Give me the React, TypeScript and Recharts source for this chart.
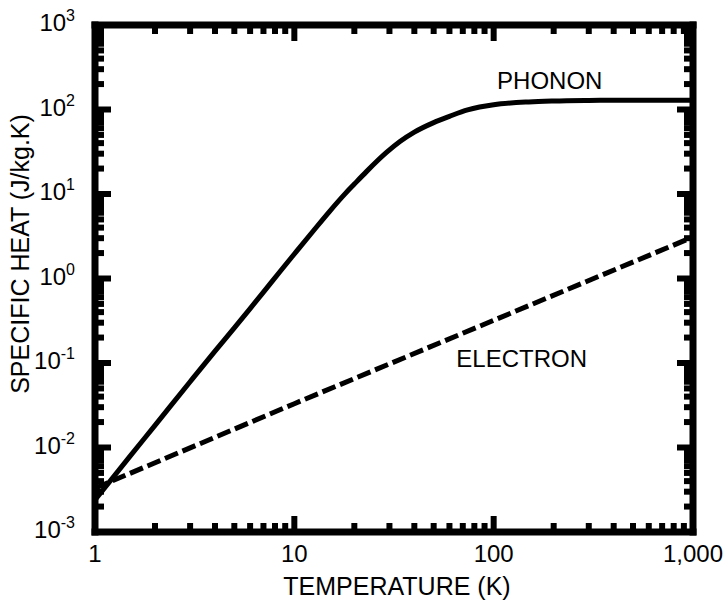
import { Label, Line, LineChart, ReferenceDot, XAxis, YAxis } from 'recharts'

// Phonon specific heat (log-log)
const phononT = [1, 1.5, 2, 3, 4, 5, 6, 7, 8.5, 10, 12.5, 15, 18, 20, 23, 29, 34, 40, 50, 60, 74, 85, 100, 150, 200, 300, 500, 700, 1000]
const phononC = [0.0024, 0.0079, 0.0183, 0.06, 0.138, 0.26, 0.44, 0.69, 1.22, 1.95, 3.7, 6.2, 10.1, 13.1, 18.4, 31, 42, 54, 70, 83, 99, 107, 114, 123, 126, 128, 129, 129, 129]

// Electron contribution (dashed)
const electronT = [1, 10, 100, 1000]
const electronC = [0.0033, 0.033, 0.32, 3.1]

const xMajors = [1, 10, 100, 1000]
const xMajorLabels = ['1', '10', '100', '1,000']
const yMajors = [0.001, 0.01, 0.1, 1, 10, 100, 1000]
const yExponents = ['-3', '-2', '-1', '0', '1', '2', '3']

const FONT = '"Liberation Sans", Arial, sans-serif'
const MAJOR_LEN = 16
const MINOR_LEN = 9
const TICK_W = 6

const withMinors = (majors: number[]) => {
  const out: number[] = []
  majors.forEach((m, i) => {
    out.push(m)
    if (i < majors.length - 1) {
      for (let k = 2; k <= 9; k++) out.push(Number((m * k).toPrecision(6)))
    }
  })
  return out
}

const xTicks = withMinors(xMajors)
const yTicks = withMinors(yMajors)

const phononData = phononT.map((t, i) => ({ t, c: phononC[i] }))
const electronData = electronT.map((t, i) => ({ t, c: electronC[i] }))

const majorIndex = (majors: number[], v: number) =>
  majors.findIndex((m) => Math.abs(Math.log10(m) - Math.log10(v)) < 1e-6)

function BottomTick({ x, y, payload }: any) {
  const idx = majorIndex(xMajors, payload.value)
  const len = idx >= 0 ? MAJOR_LEN : MINOR_LEN
  return (
    <g>
      <line x1={x} x2={x} y1={y} y2={y - len} stroke="#000" strokeWidth={TICK_W} />
      {idx >= 0 && (
        <text x={x} y={y + 30} textAnchor="middle" fontSize={24} fontFamily={FONT} fill="#000">
          {xMajorLabels[idx]}
        </text>
      )}
    </g>
  )
}

function TopTick({ x, y, payload }: any) {
  const len = majorIndex(xMajors, payload.value) >= 0 ? MAJOR_LEN : MINOR_LEN
  return <line x1={x} x2={x} y1={y} y2={y + len} stroke="#000" strokeWidth={TICK_W} />
}

function LeftTick({ x, y, payload }: any) {
  const idx = majorIndex(yMajors, payload.value)
  const len = idx >= 0 ? MAJOR_LEN : MINOR_LEN
  return (
    <g>
      <line x1={x} x2={x + len} y1={y} y2={y} stroke="#000" strokeWidth={TICK_W} />
      {idx >= 0 && (
        <text x={x - 20} y={y + 6} textAnchor="end" fontSize={24} fontFamily={FONT} fill="#000">
          <tspan>10</tspan>
          <tspan dy={-10} fontSize={16}>{yExponents[idx]}</tspan>
        </text>
      )}
    </g>
  )
}

function RightTick({ x, y, payload }: any) {
  const len = majorIndex(yMajors, payload.value) >= 0 ? MAJOR_LEN : MINOR_LEN
  return <line x1={x} x2={x - len} y1={y} y2={y} stroke="#000" strokeWidth={TICK_W} />
}

const frame = { stroke: '#000', strokeWidth: 7, strokeLinecap: 'square' as const }

const annotation = (text: string) => (props: any) => {
  const { viewBox } = props
  return (
    <text x={viewBox.x} y={viewBox.y} fontSize={24} fontFamily={FONT} fill="#000">
      {text}
    </text>
  )
}

export default function App() {
  return (
    <div style={{ position: 'absolute', left: 0, top: 0, background: '#fff' }}>
      <LineChart width={727} height={602} margin={{ top: 24, right: 33, bottom: 0, left: 0 }}>
        <XAxis
          xAxisId="main"
          dataKey="t"
          type="number"
          scale="log"
          domain={[1, 1000]}
          allowDataOverflow
          ticks={xTicks}
          interval={0}
          height={70}
          tickSize={0}
          tickMargin={0}
          tickLine={false}
          axisLine={frame}
          tick={BottomTick}
        >
          <Label
            content={(props: any) => {
              const vb = props.viewBox
              return (
                <text x={vb.x + vb.width / 2 + 3} y={vb.y + 63} textAnchor="middle" fontSize={25} fontFamily={FONT} fill="#000">
                  TEMPERATURE (K)
                </text>
              )
            }}
          />
        </XAxis>
        <XAxis
          xAxisId="top"
          orientation="top"
          dataKey="t"
          type="number"
          scale="log"
          domain={[1, 1000]}
          allowDataOverflow
          ticks={xTicks}
          interval={0}
          height={1}
          tickSize={0}
          tickMargin={0}
          tickLine={false}
          axisLine={frame}
          tick={TopTick}
        />
        <YAxis
          yAxisId="main"
          type="number"
          scale="log"
          domain={[0.001, 1000]}
          allowDataOverflow
          ticks={yTicks}
          interval={0}
          width={95}
          tickSize={0}
          tickMargin={0}
          tickLine={false}
          axisLine={frame}
          tick={LeftTick}
        >
          <Label
            content={() => (
              <text x={29} y={254} transform="rotate(-90, 29, 254)" textAnchor="middle" fontSize={25} fontFamily={FONT} fill="#000">
                SPECIFIC HEAT (J/kg.K)
              </text>
            )}
          />
        </YAxis>
        <YAxis
          yAxisId="right"
          orientation="right"
          type="number"
          scale="log"
          domain={[0.001, 1000]}
          allowDataOverflow
          ticks={yTicks}
          interval={0}
          width={1}
          tickSize={0}
          tickMargin={0}
          tickLine={false}
          axisLine={frame}
          tick={RightTick}
        />
        {/* invisible series so the top/right frame axes are attached to data */}
        <Line
          xAxisId="top"
          yAxisId="right"
          data={phononData}
          dataKey="c"
          stroke="none"
          dot={false}
          activeDot={false}
          isAnimationActive={false}
        />
        <Line
          xAxisId="main"
          yAxisId="main"
          data={phononData}
          dataKey="c"
          type="monotone"
          stroke="#000"
          strokeWidth={5}
          dot={false}
          isAnimationActive={false}
        />
        <Line
          xAxisId="main"
          yAxisId="main"
          data={electronData}
          dataKey="c"
          type="linear"
          stroke="#000"
          strokeWidth={5}
          strokeDasharray="14 5"
          dot={false}
          isAnimationActive={false}
        />
        <ReferenceDot xAxisId="main" yAxisId="main" x={104} y={177} r={0} label={annotation('PHONON')} />
        <ReferenceDot xAxisId="main" yAxisId="main" x={65} y={0.0885} r={0} label={annotation('ELECTRON')} />
      </LineChart>
    </div>
  )
}
